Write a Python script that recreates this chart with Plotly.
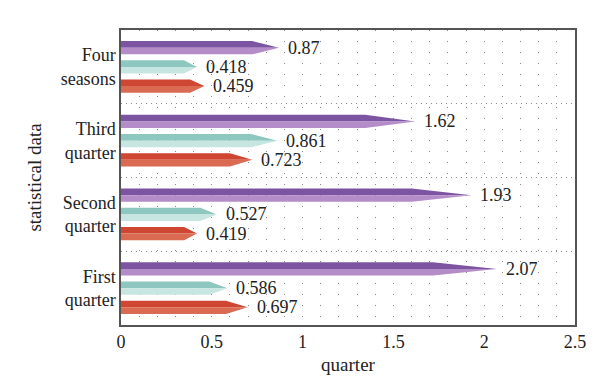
import plotly.graph_objects as go

categories = ["First<br>quarter", "Second<br>quarter", "Third<br>quarter", "Four<br>seasons"]
series_a = [2.07, 1.93, 1.62, 0.87]      # purple
series_b = [0.586, 0.527, 0.861, 0.418]  # teal
series_c = [0.697, 0.419, 0.723, 0.459]  # red
x_ticks = [0, 0.5, 1, 1.5, 2, 2.5]

FONT = "Liberation Serif"
offsets = [0.26, 0.0, -0.26]
half_h = 0.09
tip_frac = 0.17
colors = [("#7c54a2", "#b48cc8"), ("#8dc7c0", "#c7e5e1"), ("#cf4632", "#da6a52")]

fig = go.Figure()
annotations = []
for vals, off, (c_dark, c_light) in zip([series_a, series_b, series_c], offsets, colors):
    for part, col in (("top", c_dark), ("bottom", c_light)):
        xs, ys = [], []
        for i, v in enumerate(vals):
            yc = i + off
            edge = yc + half_h if part == "top" else yc - half_h
            body = v * (1 - tip_frac)
            xs += [0, 0, body, v, 0, None]
            ys += [yc, edge, edge, yc, yc, None]
        fig.add_trace(go.Scatter(x=xs, y=ys, mode="lines", fill="toself",
                                 fillcolor=col, line=dict(width=0, color=col),
                                 hoverinfo="skip", showlegend=False))
    for i, v in enumerate(vals):
        annotations.append(dict(x=v, y=i + off, xref="x", yref="y", text=f"{v:g}",
                                showarrow=False, xanchor="left", yanchor="middle",
                                xshift=7, font=dict(family=FONT, size=18, color="#222")))

fig.update_layout(
    width=600, height=387,
    margin=dict(l=113, r=33, t=22, b=70),
    plot_bgcolor="white", paper_bgcolor="white",
    font=dict(family=FONT, size=18, color="#222"),
    annotations=annotations,
    xaxis=dict(range=[0, 2.5], tickvals=x_ticks, ticktext=[f"{t:g}" for t in x_ticks],
               automargin=False,
               showgrid=True, gridcolor="#888", gridwidth=1, griddash="1px,10px",
               minor=dict(dtick=0.1, tick0=0, showgrid=True, gridcolor="#888",
                          gridwidth=1, griddash="1px,10px"),
               showline=True, mirror=True, linecolor="#555", linewidth=1.5,
               zeroline=False, ticks="",
               title=dict(text="quarter", font=dict(family=FONT, size=19), standoff=6)),
    yaxis=dict(range=[-0.5, 3.5], tickvals=list(range(len(categories))), ticktext=categories,
               automargin=False,
               showgrid=False,
               minor=dict(tick0=0.5, dtick=1, showgrid=True, gridcolor="#888",
                          gridwidth=1, griddash="1px,4px"),
               showline=True, mirror=True, linecolor="#555", linewidth=1.5,
               zeroline=False, ticks="",
               title=dict(text="statistical data", font=dict(family=FONT, size=19), standoff=14)),
)

fig.write_html("out.html")
